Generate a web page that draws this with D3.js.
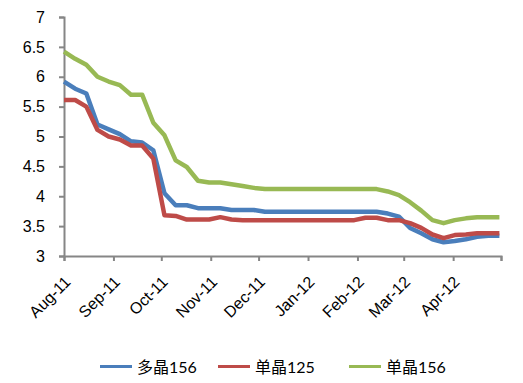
<!DOCTYPE html>
<html>
<head>
<meta charset="utf-8">
<script src="https://cdn.jsdelivr.net/npm/d3@7"></script>
<style>
  html, body { margin: 0; padding: 0; background: #fff; }
  svg { display: block; font-family: Lato, "Noto Sans CJK SC", sans-serif; }
</style>
</head>
<body>
<svg id="chart" width="523" height="383"></svg>
<script>
const dates = ["2011-08-01","2011-08-08","2011-08-15","2011-08-22","2011-08-29",
  "2011-09-05","2011-09-12","2011-09-19","2011-09-26",
  "2011-10-03","2011-10-10","2011-10-17","2011-10-24","2011-10-31",
  "2011-11-07","2011-11-14","2011-11-21","2011-11-28",
  "2011-12-05","2011-12-12","2011-12-19","2011-12-26",
  "2012-01-02","2012-01-09","2012-01-16","2012-01-23","2012-01-30",
  "2012-02-06","2012-02-13","2012-02-20","2012-02-27",
  "2012-03-05","2012-03-12","2012-03-19","2012-03-26",
  "2012-04-02","2012-04-09","2012-04-16","2012-04-23","2012-04-30"];

const poly156 = [5.92,5.8,5.72,5.2,5.12,5.04,4.92,4.9,4.77,4.05,3.85,3.85,3.8,3.8,3.8,3.77,3.77,3.77,
  3.74,3.74,3.74,3.74,3.74,3.74,3.74,3.74,3.74,3.74,3.74,
  3.71,3.66,3.47,3.38,3.28,3.23,3.25,3.28,3.32,3.34,3.34];
const mono125 = [5.61,5.61,5.5,5.11,5.0,4.95,4.85,4.85,4.63,3.68,3.67,3.61,3.61,3.61,3.65,3.61,
  3.6,3.6,3.6,3.6,3.6,3.6,3.6,3.6,3.6,3.6,3.6,
  3.64,3.64,3.6,3.6,3.55,3.47,3.36,3.3,3.35,3.36,3.38,3.38,3.38];
const mono156 = [6.42,6.3,6.2,6.0,5.92,5.86,5.7,5.7,5.23,5.02,4.6,4.49,4.26,4.23,4.23,4.2,4.17,4.14,
  4.12,4.12,4.12,4.12,4.12,4.12,4.12,4.12,4.12,4.12,4.12,
  4.08,4.02,3.9,3.76,3.6,3.55,3.6,3.63,3.65,3.65,3.65];

const seriesNames = ["多晶156","单晶125","单晶156"];
const seriesColors = ["#4A7EBB","#BE4B48","#98B954"];
const yTicks = [3,3.5,4,4.5,5,5.5,6,6.5,7];
const monthTicks = ["2011-08-01","2011-09-01","2011-10-01","2011-11-01","2011-12-01","2012-01-01","2012-02-01","2012-03-01","2012-04-01","2012-05-01"];
const monthLabels = ["Aug-11","Sep-11","Oct-11","Nov-11","Dec-11","Jan-12","Feb-12","Mar-12","Apr-12",""];

const parse = d3.timeParse("%Y-%m-%d");
const svg = d3.select("#chart");

const x = d3.scaleTime().domain([parse("2011-08-01"), parse("2012-05-01")]).range([64, 501]);
const y = d3.scaleLinear().domain([3, 7]).range([256, 17]);

const axisColor = "#868686";

// Y axis
const yAxis = svg.append("g").attr("transform", "translate(64,0)")
  .call(d3.axisLeft(y).tickValues(yTicks).tickSize(5).tickPadding(14)
    .tickFormat(d => String(d)));
yAxis.select(".domain").attr("stroke", axisColor).attr("stroke-width", 2);
yAxis.selectAll(".tick line").attr("stroke", axisColor).attr("stroke-width", 2);
yAxis.selectAll(".tick text").attr("fill", "#000").style("font-size", "16px");

// X axis
const tickDates = monthTicks.map(parse);
const xAxis = svg.append("g").attr("transform", "translate(0,256)")
  .call(d3.axisBottom(x).tickValues(tickDates).tickSize(5)
    .tickFormat((d, i) => monthLabels[i]));
xAxis.select(".domain").attr("stroke", axisColor).attr("stroke-width", 2);
xAxis.selectAll(".tick line").attr("stroke", axisColor).attr("stroke-width", 2);
xAxis.selectAll(".tick text")
  .attr("fill", "#000").style("font-size", "16px")
  .attr("text-anchor", "end")
  .attr("dy", null).attr("y", null)
  .attr("transform", "translate(7,27) rotate(-45)");

// Lines
const allSeries = [poly156, mono125, mono156];
const line = d3.line().x((d, i) => x(parse(dates[i]))).y(d => y(d));
allSeries.forEach((vals, si) => {
  svg.append("path")
    .datum(vals)
    .attr("fill", "none")
    .attr("stroke", seriesColors[si])
    .attr("stroke-width", 4.5)
    .attr("stroke-linejoin", "round")
    .attr("d", line);
});

// Legend
const legendX = [100, 218, 349];
const lg = svg.append("g");
seriesNames.forEach((name, i) => {
  lg.append("line")
    .attr("x1", legendX[i]).attr("x2", legendX[i] + 32)
    .attr("y1", 366.5).attr("y2", 366.5)
    .attr("stroke", seriesColors[i]).attr("stroke-width", 3);
  lg.append("text")
    .attr("x", legendX[i] + 37).attr("y", 373)
    .style("font-size", "16px")
    .attr("fill", "#000")
    .text(name);
});
</script>
</body>
</html>
